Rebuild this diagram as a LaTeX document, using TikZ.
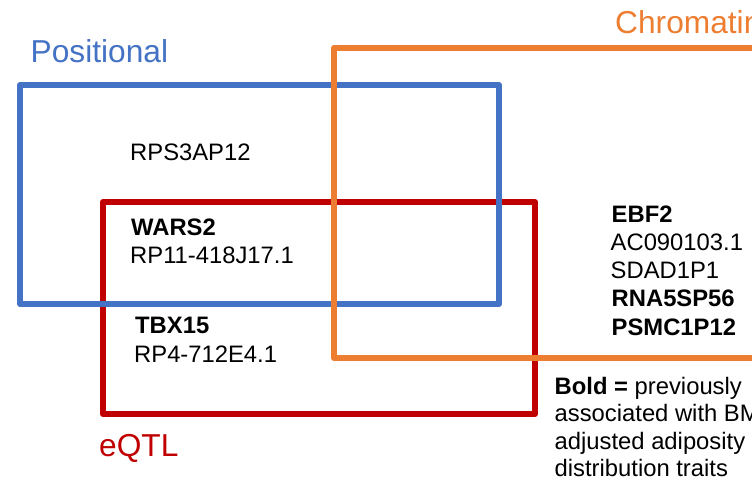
\documentclass[tikz,border=0pt]{standalone}
\usepackage{fontspec}
\setmainfont{Liberation Sans}
\definecolor{posblue}{HTML}{4472C4}
\definecolor{eqred}{HTML}{C00000}
\definecolor{chrorange}{HTML}{ED7D31}
\begin{document}
\begin{tikzpicture}[x=1pt,y=-1pt,
  setbox/.style={line width=6pt, line join=round},
  title/.style={anchor=base west, inner sep=0pt, font=\fontsize{31.7}{37}\selectfont},
  gene/.style={anchor=base west, inner sep=0pt, font=\fontsize{23.8}{28}\selectfont},
  bgene/.style={gene, font=\fontsize{23.8}{28}\selectfont\bfseries}]
\useasboundingbox (0,0) rectangle (752,482);
\clip (0,0) rectangle (752,482);
\fill[white] (0,0) rectangle (752,482);
% sets
\draw[setbox, eqred] (103,202) rectangle (535,414);
\draw[setbox, posblue] (20,85) rectangle (499,304);
\draw[setbox, chrorange] (334,48) rectangle (800,358);
% titles
\node[title, text=posblue] (tpos) at (30.5,62) {Positional};
\node[title, text=chrorange] (tchr) at (615,33) {Chromatin};
\node[title, text=eqred] (teq) at (99,456) {eQTL};
% positional only
\node[gene] (g1) at (130,160) {RPS3AP12};
% positional & eQTL
\node[bgene] (g2) at (131,235) {WARS2};
\node[gene] (g3) at (130,263) {RP11-418J17.1};
% eQTL & chromatin (region)
\node[bgene] (g4) at (135,333) {TBX15};
\node[gene] (g5) at (134,362) {RP4-712E4.1};
% chromatin only
\node[bgene] (g6) at (611.5,222) {EBF2};
\node[gene] (g7) at (610.5,250.5) {AC090103.1};
\node[gene] (g8) at (610.5,278.5) {SDAD1P1};
\node[bgene] (g9) at (611.5,306.5) {RNA5SP56};
\node[bgene] (g10) at (611.5,335) {PSMC1P12};
% legend
\node[gene] (l1) at (554.5,394) {\textbf{Bold =} previously};
\node[gene] (l2) at (554.5,421.5) {associated with BMI-};
\node[gene] (l3) at (554.5,449) {adjusted adiposity};
\node[gene] (l4) at (554.5,476.5) {distribution traits};
\end{tikzpicture}
\end{document}
